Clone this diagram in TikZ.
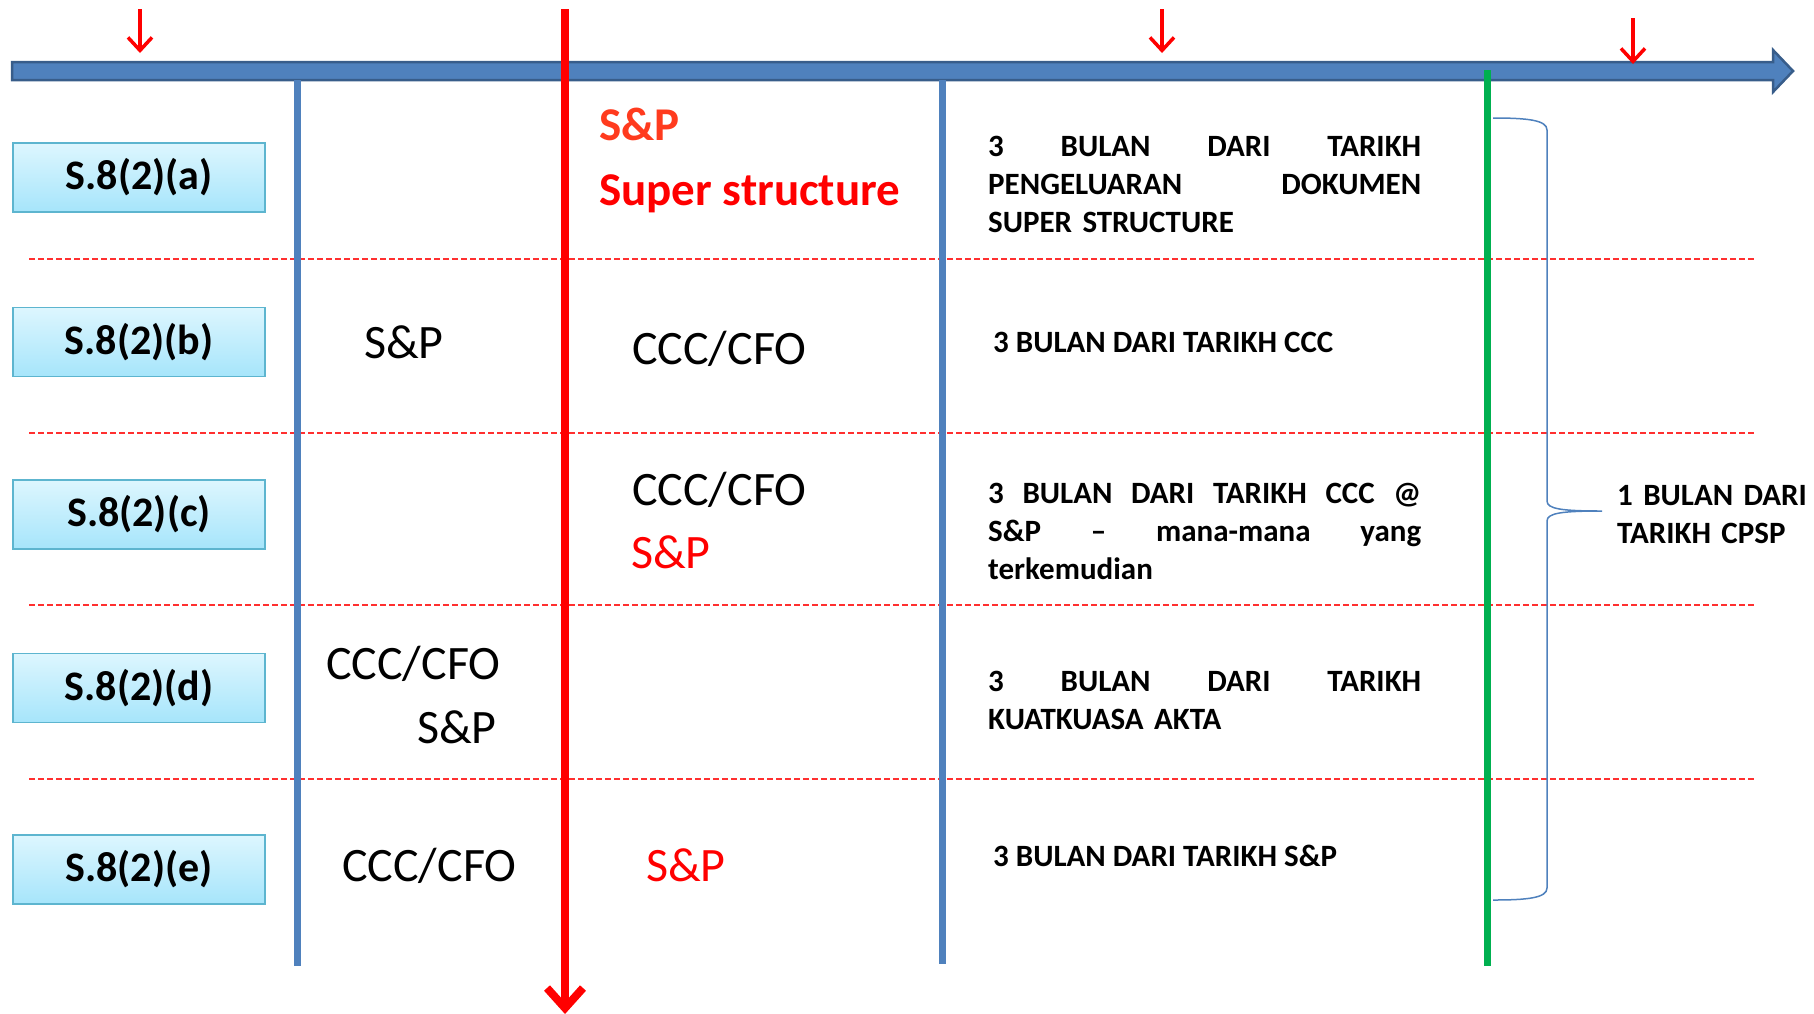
\documentclass[tikz,border=0pt]{standalone}
\usepackage{fontspec}
\setmainfont{Carlito}
\usetikzlibrary{arrows.meta}
\definecolor{tlblue}{HTML}{4F81BD}
\definecolor{tldark}{HTML}{385D8A}
\definecolor{tlgreen}{HTML}{00B050}
\definecolor{boxtop}{HTML}{DDF6FE}
\definecolor{boxbot}{HTML}{A6E5FB}
\definecolor{boxline}{HTML}{5DB5CF}
\definecolor{redA}{HTML}{FF3B1E}
\definecolor{dashred}{HTML}{FF3030}
\begin{document}
\begin{tikzpicture}[x=1pt,y=-1pt,
  secbox/.style={draw=boxline, line width=1.5pt, top color=boxtop, bottom color=boxbot,
    minimum width=252pt, minimum height=69pt, inner sep=0pt,
    font=\fontsize{42}{50}\selectfont\bfseries},
  coltext/.style={inner sep=0pt, anchor=base west, font=\fontsize{48}{58}\selectfont},
  toptext/.style={inner sep=0pt, anchor=base west, text=redA, font=\fontsize{47}{56}\selectfont\bfseries},
  desc/.style={inner sep=0pt, anchor=north west, text width=433pt, align=left,
    font=\fontsize{31}{38}\selectfont\bfseries},
  descline/.style={inner sep=0pt, anchor=north west, font=\fontsize{31}{38}\selectfont\bfseries},
  rowsep/.style={dashred, line width=2pt, dash pattern=on 6pt off 3pt},
  vblue/.style={tlblue, line width=7pt},
  smallarrow/.style={red, line width=3.5pt, -{Straight Barb[length=13pt,width=24pt]}}
]
\useasboundingbox (0,0) rectangle (1814,1013);

% row separators
\foreach \yy/\nm in {259/s1,433/s2,605/s3,779/s4}{
  \coordinate (\nm L) at (29,\yy);
  \coordinate (\nm R) at (1756,\yy);
  \draw[rowsep] (\nm L) -- (\nm R);
}

% timeline
\path[fill=tlblue, draw=tldark, line width=2.5pt, line join=miter]
  (12,62) -- (1773,62) -- (1773,50) -- (1793,71) -- (1773,92) -- (1773,80) -- (12,80) -- cycle;

% vertical lines
\coordinate (b1t) at (297,80);  \coordinate (b1b) at (297,966);
\coordinate (b2t) at (942,80);  \coordinate (b2b) at (942,964);
\coordinate (gt) at (1487,70);  \coordinate (gb) at (1487,966);
\coordinate (rt) at (565,9);    \coordinate (rb) at (565,1014);
\draw[vblue] (b1t) -- (b1b);
\draw[vblue] (b2t) -- (b2b);
\draw[tlgreen, line width=7pt] (gt) -- (gb);
\draw[red, line width=8pt, -{Straight Barb[length=20pt,width=36pt]}] (rt) -- (rb);

% small arrows on the timeline
\coordinate (a1t) at (140,9);   \coordinate (a1b) at (140,53);
\coordinate (a2t) at (1162,9);  \coordinate (a2b) at (1162,53);
\coordinate (a3t) at (1633,18); \coordinate (a3b) at (1633,64);
\draw[smallarrow] (a1t) -- (a1b);
\draw[smallarrow] (a2t) -- (a2b);
\draw[smallarrow] (a3t) -- (a3b);

% section boxes
\node[secbox] (sa) at (139,177.5) {S.8(2)(a)};
\node[secbox] (sb) at (139,342) {S.8(2)(b)};
\node[secbox] (sc) at (139,514.5) {S.8(2)(c)};
\node[secbox] (sd) at (139,688) {S.8(2)(d)};
\node[secbox] (se) at (139,869.5) {S.8(2)(e)};

% top red texts
\node[toptext] (tsp) at (599,140) {S\&P};
\node[toptext, text=red] (tss) at (599,205) {Super structure};

% column texts
\node[coltext] (bsp) at (364,358) {S\&P};
\node[coltext] (bccc) at (632,364) {CCC/CFO};
\node[coltext] (cccc) at (632,505) {CCC/CFO};
\node[coltext, text=red] (csp) at (631,568) {S\&P};
\node[coltext] (dccc) at (326,679) {CCC/CFO};
\node[coltext, anchor=base east] (dsp) at (497,743) {S\&P};
\node[coltext] (eccc) at (342,881) {CCC/CFO};
\node[coltext, text=red] (esp) at (646,881) {S\&P};

% descriptions
\node[desc] (da) at (988,136) {3\hfill BULAN\hfill DARI\hfill TARIKH\\
  PENGELUARAN\hfill DOKUMEN\\
  SUPER STRUCTURE};
\node[descline] (db) at (993,332) {3 BULAN DARI TARIKH CCC};
\node[desc] (dc) at (988,483) {3\hfill BULAN\hfill DARI\hfill TARIKH\hfill CCC\hfill @\\
  S\&P\hfill --\hfill mana-mana\hfill yang\\
  terkemudian};
\node[desc] (dd) at (988,671) {3\hfill BULAN\hfill DARI\hfill TARIKH\\
  KUATKUASA AKTA};
\node[descline] (de) at (993,845) {3 BULAN DARI TARIKH S\&P};

% brace
\coordinate (brt) at (1493,118);
\coordinate (brb) at (1493,900);
\coordinate (brtip) at (1602,511);
\draw[tlblue, line width=1.5pt]
  (brt) .. controls (1527,118) and (1547,120) .. (1547,130)
  -- (1547,501) .. controls (1547,509) and (1562,511) .. (brtip)
  .. controls (1562,511) and (1547,513) .. (1547,521)
  -- (1547,888) .. controls (1547,898) and (1527,900) .. (brb);
\node[desc, text width=200pt] (cpsp) at (1617,485) {1 BULAN DARI\\TARIKH CPSP};
\end{tikzpicture}
\end{document}
